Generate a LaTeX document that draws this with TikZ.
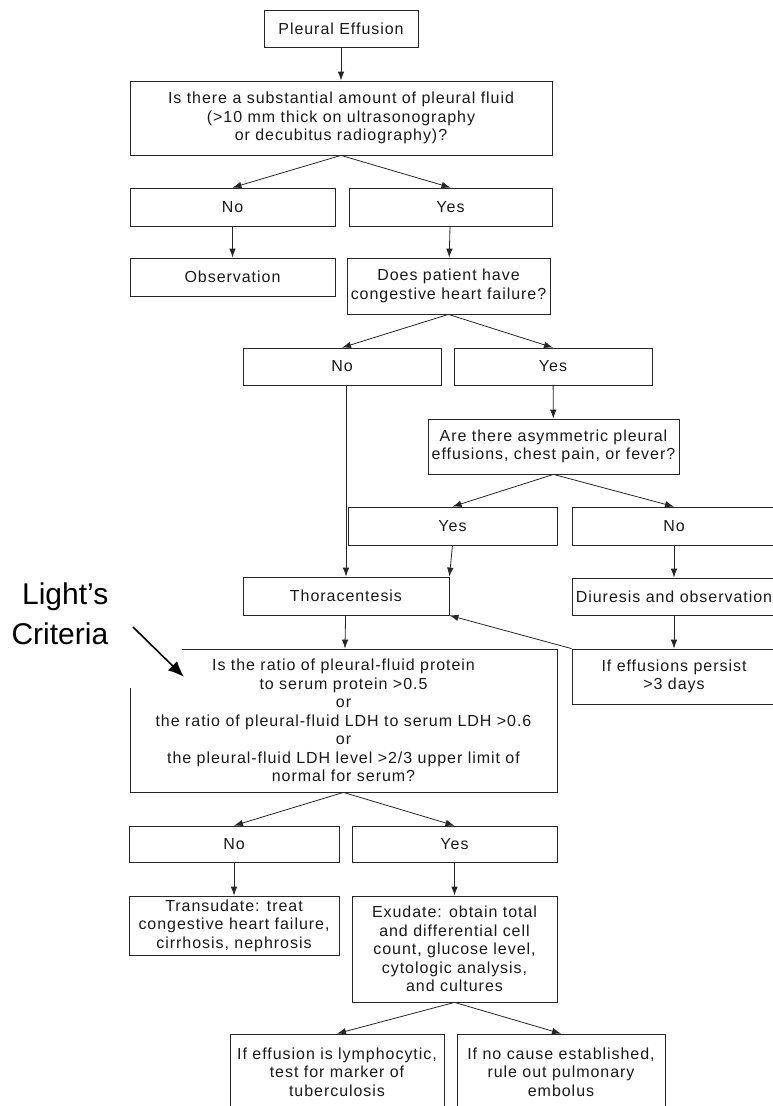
\documentclass[tikz,border=0pt]{standalone}
\usepackage{fontspec}
\usetikzlibrary{arrows.meta}
\newfontfamily\boxfont{Liberation Sans}[LetterSpace=6]
\newfontfamily\notefont{Liberation Sans}

\begin{document}
\begin{tikzpicture}[x=1pt,y=-1pt,>={Latex[length=9pt,width=6.5pt]},line width=0.8pt]
  \tikzstyle{every edge}=[draw=black!85,->]
  \tikzstyle{box}=[rectangle,draw=black!85,inner sep=0pt,align=center,text=black!90,font=\boxfont\fontsize{16}{18.5}\selectfont]
  \tikzstyle{note}=[align=right,font=\notefont\fontsize{30}{40}\selectfont]

  \clip (0,0) rectangle (773,1106);

  \node[box, minimum width=154pt, minimum height=37pt] (pe) at (341,28.5) {Pleural Effusion};
  \node[box, minimum width=422pt, minimum height=74pt] (subst) at (341,118) {Is there a substantial amount of pleural fluid\\(>10 mm thick on ultrasonography\\or decubitus radiography)?};
  \node[box, minimum width=205pt, minimum height=38pt] (no1) at (232.5,207) {No};
  \node[box, minimum width=203pt, minimum height=38pt] (yes1) at (450.5,207) {Yes};
  \node[box, minimum width=205pt, minimum height=38pt] (obs) at (232.5,277) {Observation};
  \node[box, minimum width=203pt, minimum height=56pt] (chf) at (448.5,286) {Does patient have\\congestive heart failure?};
  \node[box, minimum width=198pt, minimum height=37pt] (no2) at (342,366.5) {No};
  \node[box, minimum width=198pt, minimum height=37pt] (yes2) at (553,366.5) {Yes};
  \node[box, minimum width=251pt, minimum height=55pt] (asym) at (553.5,446.5) {Are there asymmetric pleural\\effusions, chest pain, or fever?};
  \node[box, minimum width=209pt, minimum height=38pt] (yes3) at (452.5,526) {Yes};
  \node[box, minimum width=204pt, minimum height=38pt] (no3) at (674,526) {No};
  \node[box, minimum width=206pt, minimum height=38pt] (thor) at (346,596) {Thoracentesis};
  \node[box, minimum width=204pt, minimum height=37pt] (diur) at (674,596.5) {Diuresis and observation};
  \node[box, minimum width=204pt, minimum height=55pt] (persist) at (674,676.5) {If effusions persist\\>3 days};
  \node[box, minimum width=427pt, minimum height=143pt] (crit) at (343.5,720.5) {Is the ratio of pleural-fluid protein\\to serum protein >0.5\\or\\the ratio of pleural-fluid LDH to serum LDH >0.6\\or\\the pleural-fluid LDH level >2/3 upper limit of\\normal for serum?};
  \node[box, minimum width=210pt, minimum height=36pt] (no4) at (234,844) {No};
  \node[box, minimum width=205pt, minimum height=36pt] (yes4) at (454.5,844) {Yes};
  \node[box, minimum width=210pt, minimum height=59pt] (trans) at (234,925.5) {Transudate: treat\\congestive heart failure,\\cirrhosis, nephrosis};
  \node[box, minimum width=205pt, minimum height=106pt] (exud) at (454.5,949) {Exudate: obtain total\\and differential cell\\count, glucose level,\\cytologic analysis,\\and cultures};
  \node[box, minimum width=214pt, minimum height=76pt] (lymph) at (337,1072) {If effusion is lymphocytic,\\test for marker of\\tuberculosis};
  \node[box, minimum width=208pt, minimum height=76pt] (embol) at (561,1072) {If no cause established,\\rule out pulmonary\\embolus};

  % corner of the criteria box hidden under the note
  \fill[white] (124,644) rectangle (182,688);

  \node[note, anchor=east] (light) at (112,614) {Light’s\\Criteria};
  \coordinate (lstart) at (133,627);
  \coordinate (ltip) at (184,677);
  \draw[line width=1.6pt, -{Latex[length=16pt,width=13pt]}] (lstart) -- (ltip);

  \path (pe) edge (subst);
  \path (subst.south) edge (no1.north) edge (yes1.north);
  \path (no1) edge (obs);
  \path (yes1) edge (chf);
  \path (chf.south) edge (no2.north) edge (yes2.north);
  \path (yes2) edge (asym);
  \path (asym.south) edge (yes3.north) edge (no3.north);
  \path (thor.north |- no2.south) edge (thor.north);
  \path (yes3.south) edge (thor.north east);
  \path (no3) edge (diur);
  \path (diur) edge (persist);
  \path (persist.north west) edge (thor.south east);
  \path (thor) edge (crit);
  \path (crit.south) edge (no4.north) edge (yes4.north);
  \path (no4) edge (trans);
  \path (yes4) edge (exud);
  \path (exud.south) edge (lymph.north) edge (embol.north);
\end{tikzpicture}
\end{document}
